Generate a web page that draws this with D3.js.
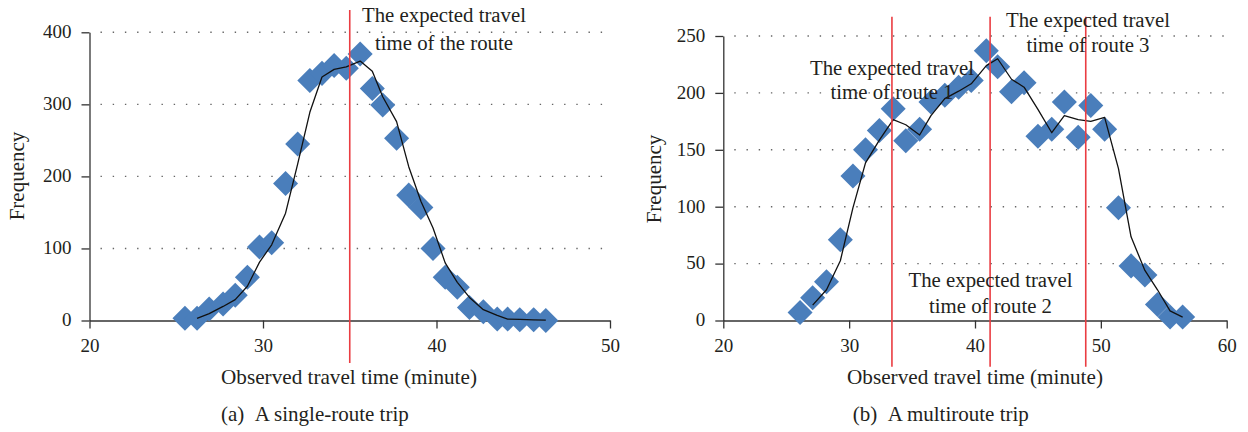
<!DOCTYPE html>
<html>
<head>
<meta charset="utf-8">
<script src="https://d3js.org/d3.v7.min.js"></script>
<style>
  html, body { margin: 0; padding: 0; background: #fff; }
  svg { display: block; }
  text { font-family: "Liberation Serif", "DejaVu Serif", serif; fill: #231f20; }
</style>
</head>
<body>
<svg id="chart" width="1248" height="432"></svg>
<script>
// ---------- data ----------
const singleTime = [25.5, 26.2, 26.9, 27.7, 28.4, 29.1, 29.8, 30.5, 31.3, 32.0,
                    32.7, 33.4, 34.1, 34.8, 35.6, 36.3, 36.9, 37.7, 38.4, 39.1,
                    39.8, 40.5, 41.2, 41.9, 42.7, 43.5, 44.1, 44.8, 45.6, 46.3];
const singleFreq = [3, 3, 16, 23, 35, 60, 102, 108, 190, 245,
                    333, 343, 354, 350, 370, 322, 299, 253, 174, 157,
                    100, 60, 46, 18, 12, 2, 2, 1, 1, 0];
const multiTime = [26.1, 27.1, 28.2, 29.3, 30.3, 31.3, 32.4, 33.5, 34.5, 35.6,
                   36.5, 37.6, 38.7, 39.7, 40.9, 41.8, 42.9, 43.9, 45.0, 46.1,
                   47.1, 48.2, 49.2, 50.3, 51.4, 52.4, 53.5, 54.5, 55.5, 56.5];
const multiFreq = [7, 20, 34, 71, 127, 150, 167, 186, 158, 168,
                   192, 198, 205, 211, 237, 223, 201, 209, 162, 168,
                   192, 161, 189, 168, 99, 48, 40, 14, 3, 3];
const singleXTicks = [20, 30, 40, 50];
const singleYTicks = [0, 100, 200, 300, 400];
const multiXTicks = [20, 30, 40, 50, 60];
const multiYTicks = [0, 50, 100, 150, 200, 250];
const singleExpected = [35];
const multiExpected = [33.4, 41.2, 48.8];
const singleNotes = [["The expected travel", "time of the route"]];
const multiNotes = [["The expected travel", "time of route 1"],
                    ["The expected travel", "time of route 3"],
                    ["The expected travel", "time of route 2"]];
const xTitle = "Observed travel time (minute)";
const yTitle = "Frequency";
const captions = ["(a)\u00a0\u00a0A single-route trip", "(b)\u00a0\u00a0A multiroute trip"];

// ---------- layout ----------
const svg = d3.select("#chart");
const blue = "#4a7ebb";
const red = "#ea3d42";
const axisColor = "#333";

function movingAverage(xs, ys) {
  const out = [];
  for (let i = 1; i < ys.length; i++) out.push([xs[i], (ys[i - 1] + ys[i]) / 2]);
  return out;
}

function panel(cfg) {
  const g = svg.append("g");
  const x = d3.scaleLinear().domain(cfg.xDomain).range(cfg.xRange);
  const y = d3.scaleLinear().domain(cfg.yDomain).range(cfg.yRange);

  // dotted gridlines
  g.append("g").selectAll("line")
    .data(cfg.yTicks.filter(v => v !== 0))
    .join("line")
    .attr("x1", cfg.xRange[0] + 11).attr("x2", cfg.gridEnd)
    .attr("y1", d => y(d)).attr("y2", d => y(d))
    .attr("stroke", "#666").attr("stroke-width", 1.4)
    .attr("stroke-dasharray", "1.4 10.8");

  // axes
  const yAxis = g.append("g")
    .attr("transform", `translate(${cfg.xRange[0]},0)`)
    .call(d3.axisLeft(y).tickValues(cfg.yTicks).tickSize(8).tickSizeOuter(0).tickPadding(10));
  const xAxis = g.append("g")
    .attr("transform", `translate(0,${cfg.yRange[0]})`)
    .call(d3.axisBottom(x).tickValues(cfg.xTicks).tickSize(8).tickSizeOuter(0));
  [xAxis, yAxis].forEach(a => {
    a.selectAll("path, line").attr("stroke", axisColor).attr("stroke-width", 1.3);
    a.selectAll("text").attr("font-size", 19).attr("fill", "#231f20")
      .attr("font-family", '"Liberation Serif", serif');
  });
  xAxis.selectAll("text").attr("y", 31.5).attr("dy", 0);
  yAxis.selectAll("text").attr("dy", "0.28em");

  // diamonds
  const pts = cfg.xs.map((v, i) => [v, cfg.ys[i]]);
  const sq = d3.symbol(d3.symbolSquare).size(17.7 * 17.7);
  g.append("g").selectAll("path")
    .data(pts).join("path")
    .attr("d", sq)
    .attr("transform", d => `translate(${x(d[0])},${y(d[1])}) rotate(45)`)
    .attr("fill", blue);

  // moving-average trendline (period 2)
  const ma = movingAverage(cfg.xs, cfg.ys);
  g.append("path")
    .datum(ma)
    .attr("d", d3.line().x(d => x(d[0])).y(d => y(d[1])))
    .attr("fill", "none").attr("stroke", "#111").attr("stroke-width", 1.3)
    .attr("stroke-linejoin", "round");

  // expected travel time lines
  g.append("g").selectAll("line")
    .data(cfg.expected).join("line")
    .attr("x1", d => x(d)).attr("x2", d => x(d))
    .attr("y1", cfg.redTop).attr("y2", cfg.redBottom)
    .attr("stroke", red).attr("stroke-width", 1.6);

  // annotations
  cfg.notes.forEach((lines, i) => {
    const p = cfg.notePos[i];
    lines.forEach((t, j) => {
      g.append("text").attr("x", p[0]).attr("y", p[1 + j])
        .attr("text-anchor", "middle").attr("font-size", 20.8).text(t);
    });
  });

  // axis titles
  g.append("text")
    .attr("x", cfg.xTitleX).attr("y", 384)
    .attr("text-anchor", "middle").attr("font-size", 21.2).text(xTitle);
  g.append("text")
    .attr("transform", `translate(${cfg.yTitleX},${cfg.yTitleY}) rotate(-90)`)
    .attr("text-anchor", "middle").attr("font-size", 21).text(yTitle);
  g.append("text")
    .attr("x", cfg.captionX).attr("y", 421)
    .attr("text-anchor", "start").attr("font-size", 21).text(cfg.caption);
}

panel({
  xs: singleTime, ys: singleFreq,
  xDomain: [20, 50], xRange: [89.5, 610],
  yDomain: [0, 400], yRange: [320.5, 32.3],
  xTicks: singleXTicks, yTicks: singleYTicks,
  gridEnd: 612,
  expected: singleExpected, redTop: 10, redBottom: 363,
  notes: singleNotes, notePos: [[444, 22, 50]],
  xTitleX: 349, yTitleX: 24, yTitleY: 176,
  captionX: 221, caption: captions[0]
});

panel({
  xs: multiTime, ys: multiFreq,
  xDomain: [20, 60], xRange: [723.3, 1226.7],
  yDomain: [0, 250], yRange: [320.5, 36],
  xTicks: multiXTicks, yTicks: multiYTicks,
  gridEnd: 1226,
  expected: multiExpected, redTop: 16.7, redBottom: 366.7,
  notes: multiNotes, notePos: [[892, 75, 98.5], [1088, 27, 52], [990.5, 287, 313]],
  xTitleX: 975, yTitleX: 661, yTitleY: 179,
  captionX: 852.7, caption: captions[1]
});
</script>
</body>
</html>
